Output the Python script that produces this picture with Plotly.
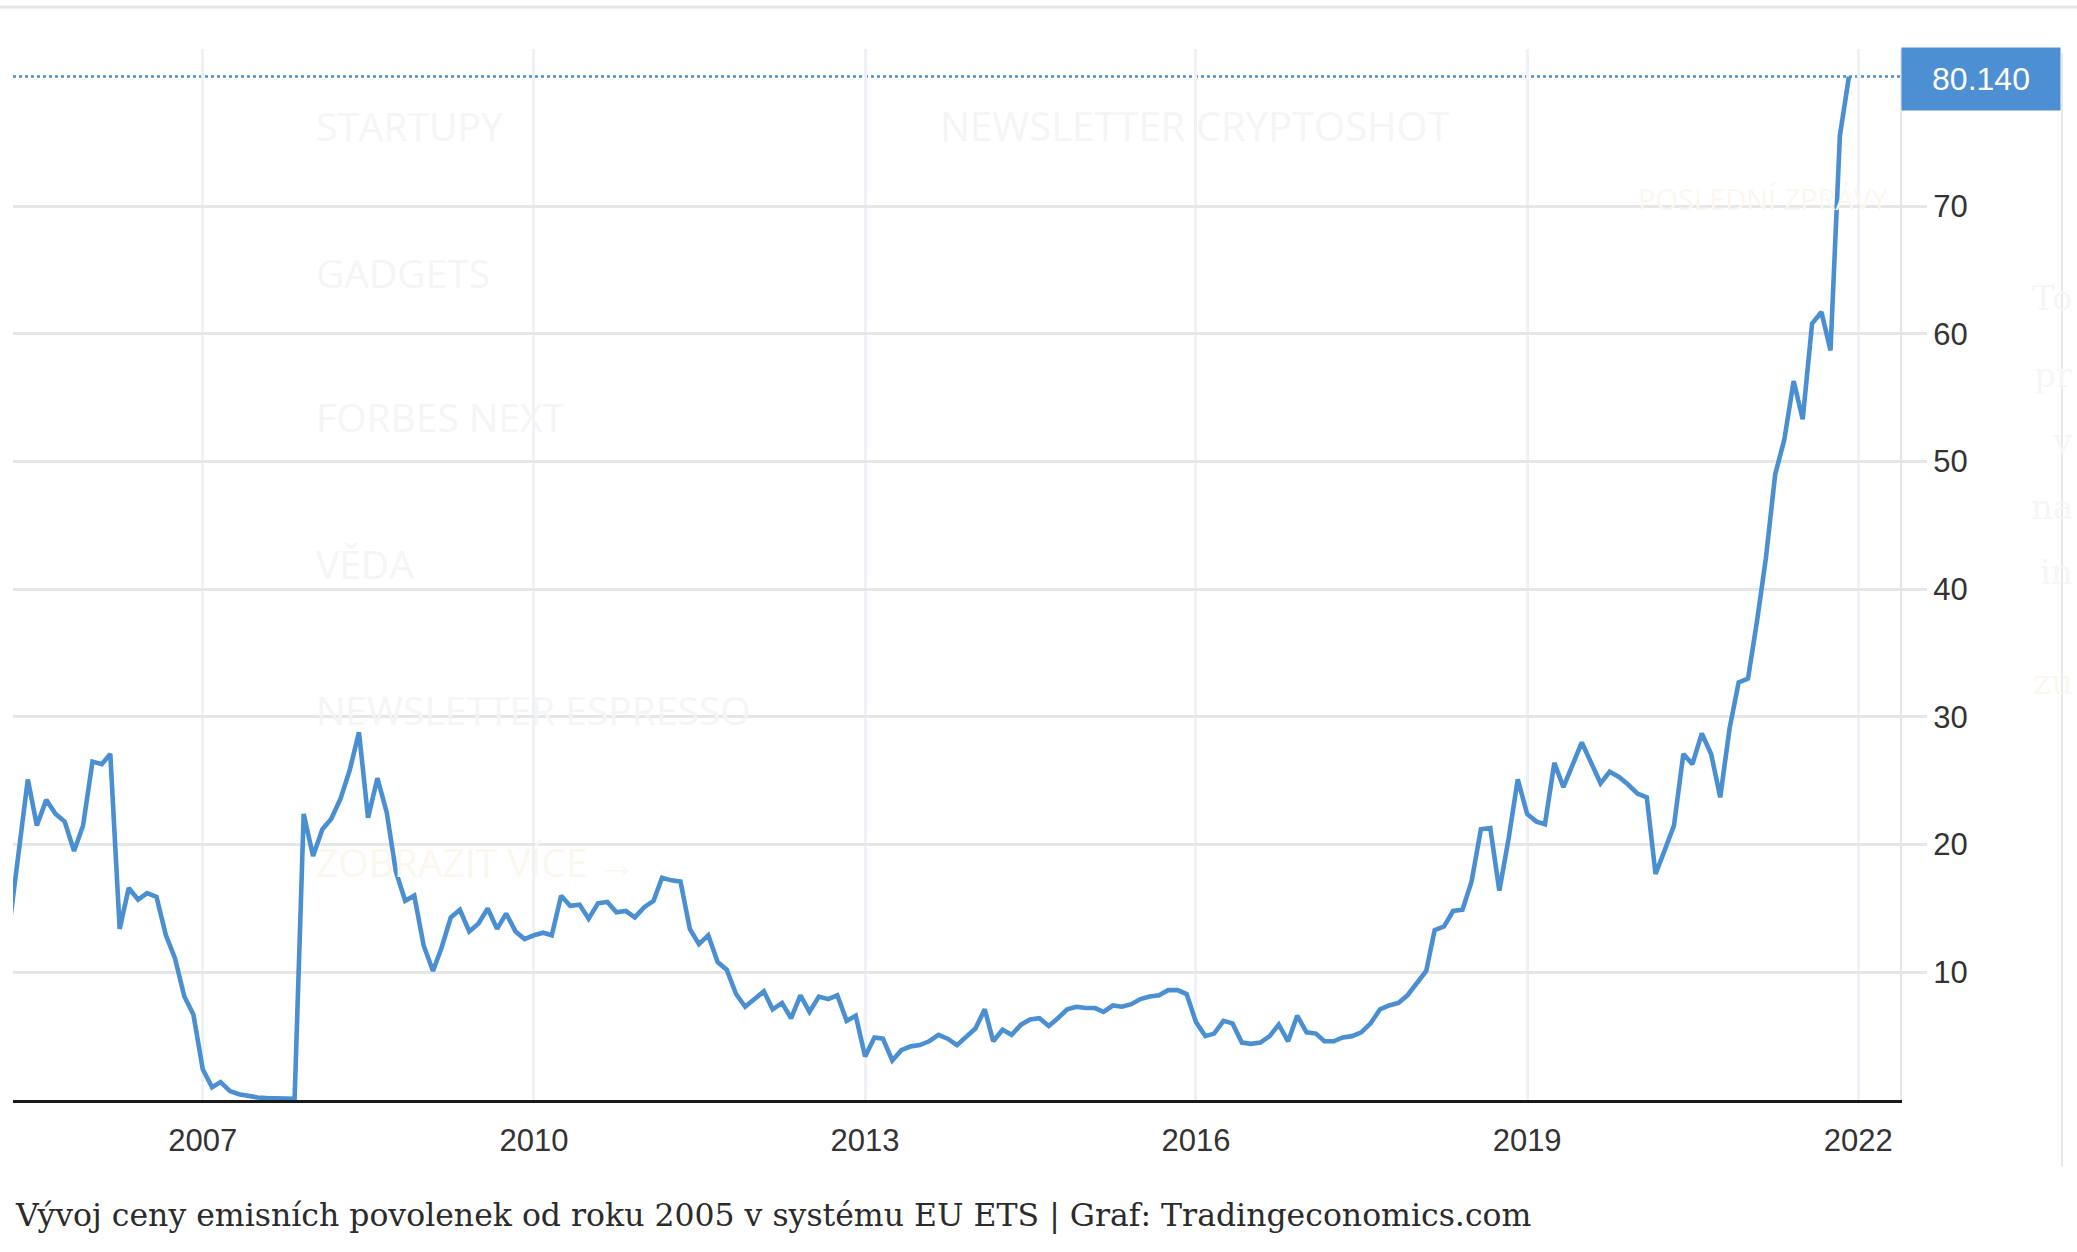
import pandas as pd
import plotly.graph_objects as go

# ---------------- data (EU ETS carbon price, EUR/t, monthly) ----------------
start_month = "2005-04-01"
values_2005 = [13.6, 19.2, 25.1, 21.5, 23.5, 22.4, 21.8, 19.5, 21.5]  # Apr-Dec
values_2006 = [26.5, 26.3, 27.1, 13.4, 16.6, 15.7, 16.2, 15.9, 12.9, 11.1, 8.1, 6.7]
values_2007 = [2.4, 1.0, 1.4, 0.7, 0.45, 0.3, 0.2, 0.15, 0.12, 0.1, 0.1, 22.4]
values_2008 = [19.1, 21.2, 22.0, 23.6, 25.8, 28.8, 22.1, 25.2, 22.5, 17.9, 15.6, 16.0]
values_2009 = [12.1, 10.1, 11.9, 14.3, 14.9, 13.2, 13.8, 15.0, 13.4, 14.6, 13.2, 12.6]
values_2010 = [12.9, 13.1, 12.9, 16.0, 15.2, 15.3, 14.2, 15.4, 15.5, 14.7, 14.8, 14.3]
values_2011 = [15.1, 15.6, 17.4, 17.2, 17.1, 13.4, 12.2, 12.9, 10.8, 10.2, 8.3, 7.3]
values_2012 = [7.9, 8.5, 7.1, 7.6, 6.4, 8.2, 6.9, 8.1, 7.9, 8.2, 6.2, 6.6]
values_2013 = [3.4, 4.9, 4.8, 3.1, 3.9, 4.2, 4.3, 4.6, 5.1, 4.8, 4.3, 5.0]
values_2014 = [5.6, 7.1, 4.6, 5.5, 5.1, 5.9, 6.3, 6.4, 5.8, 6.4, 7.1, 7.3]
values_2015 = [7.2, 7.2, 6.9, 7.4, 7.3, 7.5, 7.9, 8.1, 8.2, 8.6, 8.6, 8.3]
values_2016 = [6.1, 5.0, 5.2, 6.2, 6.0, 4.5, 4.4, 4.5, 5.0, 5.9, 4.6, 6.6]
values_2017 = [5.3, 5.2, 4.6, 4.6, 4.9, 5.0, 5.3, 6.0, 7.1, 7.4, 7.6, 8.2]
values_2018 = [9.2, 10.1, 13.3, 13.6, 14.8, 14.9, 17.1, 21.2, 21.3, 16.4, 20.5, 25.1]
values_2019 = [22.4, 21.8, 21.6, 26.4, 24.5, 26.3, 28.0, 26.4, 24.8, 25.7, 25.3, 24.7]
values_2020 = [24.0, 23.7, 17.7, 19.6, 21.5, 27.1, 26.3, 28.7, 27.1, 23.7, 29.1, 32.7]
values_2021 = [33.0, 37.7, 42.4, 49.0, 51.7, 56.3, 53.3, 60.8, 61.7, 58.7, 75.5, 80.14]

values = (values_2005 + values_2006 + values_2007 + values_2008 + values_2009 +
          values_2010 + values_2011 + values_2012 + values_2013 + values_2014 +
          values_2015 + values_2016 + values_2017 + values_2018 + values_2019 +
          values_2020 + values_2021)
dates = pd.date_range(start_month, periods=len(values), freq="MS")

x_tick_vals = ["2007-01-01", "2010-01-01", "2013-01-01", "2016-01-01", "2019-01-01", "2022-01-01"]
x_tick_text = ["2007", "2010", "2013", "2016", "2019", "2022"]
y_tick_vals = [10, 20, 30, 40, 50, 60, 70]
last_value = values[-1]

caption = "Vývoj ceny emisních povolenek od roku 2005 v systému EU ETS | Graf: Tradingeconomics.com"

# faint overlay texts from the page behind the chart
ghost_left = ["STARTUPY", "GADGETS", "FORBES NEXT", "VĚDA", "NEWSLETTER ESPRESSO"]
ghost_left_y = [126, 272, 417, 563, 709]
ghost_right_serif = ["To", "pr", "v", "na", "in"]
ghost_right_y = [298, 375, 441, 507, 572]

# ---------------- layout constants ----------------
W, H = 2077, 1252
ML, MR, MT, MB = 13, 177, 49, 152
PW, PH = W - ML - MR, H - MT - MB

LINE_BLUE = "#4a8fd2"
BOX_BLUE = "#4c8fd3"
TEXT = "#333333"
GHOST = "#f4f5f6"
GHOST_WARM = "#fcf7ee"


def px(xf):
    return (xf - ML) / PW


def py(yf):
    return (H - MB - yf) / PH


fig = go.Figure()
fig.add_trace(go.Scatter(
    x=dates, y=values, mode="lines",
    line=dict(color=LINE_BLUE, width=4.6),
    hoverinfo="x+y", showlegend=False,
))

annotations = []
for t, yy in zip(ghost_left, ghost_left_y):
    annotations.append(dict(text=t, xref="paper", yref="paper", x=px(314), y=py(yy),
                            xanchor="left", yanchor="middle", showarrow=False,
                            font=dict(family="Open Sans", size=39, color=GHOST)))
annotations.append(dict(text="NEWSLETTER CRYPTOSHOT", xref="paper", yref="paper", x=px(938), y=py(126),
                        xanchor="left", yanchor="middle", showarrow=False,
                        font=dict(family="Open Sans", size=40, color=GHOST)))
annotations.append(dict(text="ZOBRAZIT VÍCE →", xref="paper", yref="paper", x=px(314), y=py(861),
                        xanchor="left", yanchor="middle", showarrow=False,
                        font=dict(family="Open Sans", size=39, color=GHOST_WARM)))
annotations.append(dict(text="POSLEDNÍ ZPRÁVY", xref="paper", yref="paper", x=px(1636), y=py(199),
                        xanchor="left", yanchor="middle", showarrow=False,
                        font=dict(family="Open Sans", size=29, color=GHOST_WARM)))
for t, yy in zip(ghost_right_serif, ghost_right_y):
    annotations.append(dict(text=t, xref="paper", yref="paper", x=px(W - 2), y=py(yy),
                            xanchor="right", yanchor="middle", showarrow=False,
                            font=dict(family="DejaVu Serif", size=34, color="#f5f6f7")))
annotations.append(dict(text="zu", xref="paper", yref="paper", x=px(W - 2), y=py(682),
                        xanchor="right", yanchor="middle", showarrow=False,
                        font=dict(family="DejaVu Serif", size=34, color=GHOST_WARM)))

# last value label
annotations.append(dict(
    text=f"{last_value:.3f}", xref="paper", yref="y", x=px(1981), y=last_value,
    xanchor="center", yanchor="middle", yshift=-2, showarrow=False,
    width=156, height=60, bgcolor=BOX_BLUE, align="center", valign="middle",
    font=dict(family="Liberation Sans, Arial", size=32, color="white"),
))
# caption
annotations.append(dict(
    text=caption, xref="paper", yref="paper", x=px(13), y=py(1215),
    xanchor="left", yanchor="middle", showarrow=False,
    font=dict(family="DejaVu Serif", size=31.5, color="#2b2b2b"),
))

shapes = [
    # dotted last-value line
    dict(type="line", xref="paper", yref="y", x0=0, x1=1, y0=last_value, y1=last_value,
         line=dict(color=LINE_BLUE, width=2.5, dash="dot"), layer="below"),
    # page top rule
    dict(type="line", xref="paper", yref="paper", x0=px(0), x1=px(W), y0=py(7), y1=py(7),
         line=dict(color="#e6e6e6", width=3)),
    # page right rule
    dict(type="line", xref="paper", yref="paper", x0=px(2062), x1=px(2062), y0=py(53), y1=py(1166),
         line=dict(color="#e8e8e8", width=2)),
]

fig.update_layout(
    width=W, height=H,
    margin=dict(l=ML, r=MR, t=MT, b=MB, pad=0),
    paper_bgcolor="white", plot_bgcolor="white",
    showlegend=False,
    annotations=annotations,
    shapes=shapes,
    xaxis=dict(
        type="date", range=["2005-04-13", "2022-05-19"],
        tickvals=x_tick_vals, ticktext=x_tick_text,
        showgrid=True, gridcolor="#eef2f6", gridwidth=2.5,
        showline=True, linecolor="#1a1a1a", linewidth=3,
        ticks="outside", ticklen=11, tickcolor="rgba(0,0,0,0)",
        tickfont=dict(family="Liberation Sans, Arial", size=31, color=TEXT),
        zeroline=False, fixedrange=True,
    ),
    yaxis=dict(
        side="right", range=[0, 82.3],
        tickvals=y_tick_vals,
        showgrid=True, gridcolor="#e6e6e6", gridwidth=2.5,
        showline=True, linecolor="#e6e6e6", linewidth=2,
        ticks="outside", ticklen=25, tickcolor="#e6e6e6", tickwidth=2.5,
        tickfont=dict(family="Liberation Sans, Arial", size=31, color=TEXT),
        zeroline=False, fixedrange=True,
    ),
)

fig.write_html(
    "out.html",
    config={"displayModeBar": False},
    post_script="document.body.style.margin='0';document.body.style.overflow='hidden';",
)
